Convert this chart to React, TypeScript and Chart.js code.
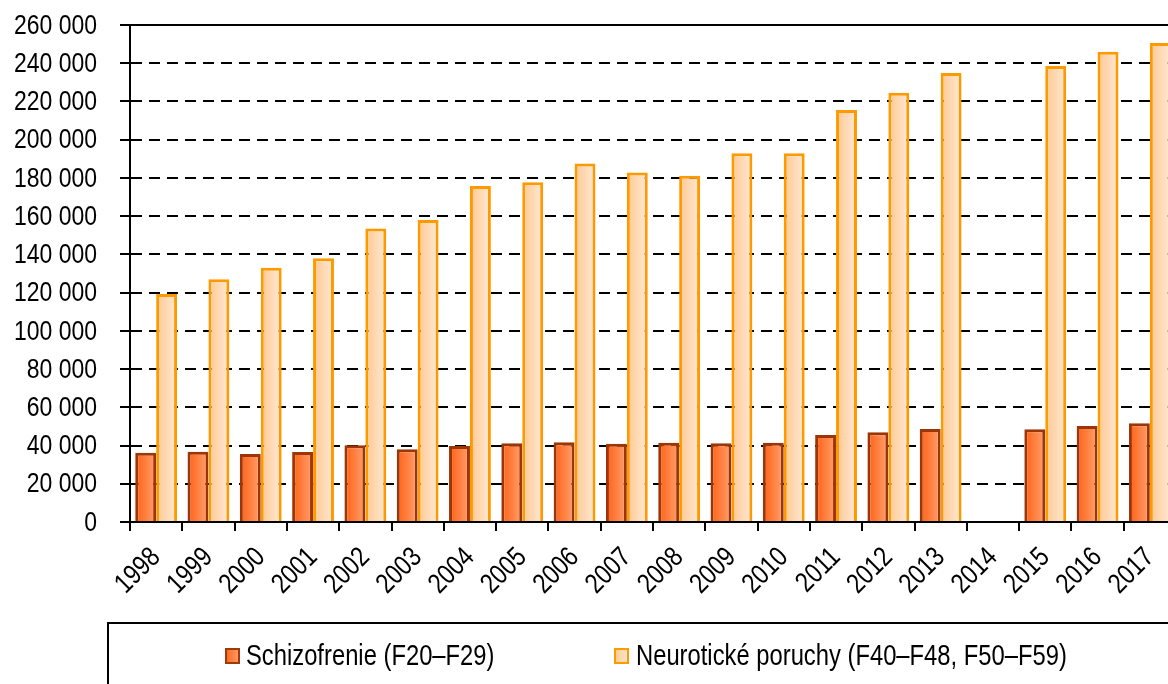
import React, { useEffect, useRef } from "react";
import { Chart, registerables } from "chart.js";

Chart.register(...registerables);

const years = ["1998","1999","2000","2001","2002","2003","2004","2005","2006","2007","2008","2009","2010","2011","2012","2013","2014","2015","2016","2017"];
const schizofrenie: (number | null)[] = [36250,36800,35600,36600,40100,38000,39800,41200,41700,41000,41500,41200,41500,45500,46900,48600,null,48500,50200,51600];
const neuroticke: (number | null)[] = [119300,127000,133000,138000,153600,158000,175800,177700,187600,182900,181200,192900,192900,215500,224600,234900,null,238600,246000,250600];
const seriesNames = ["Schizofrenie (F20–F29)", "Neurotické poruchy (F40–F48, F50–F59)"];
const yMax = 260000;
const yStep = 20000;

const FONT = "'Liberation Sans', Arial, sans-serif";
const NARROW = 0.82;

const CW = 1190;
const CH = 684;

function fmt(v: number) {
  return v === 0 ? "0" : `${Math.round(v / 1000)} 000`;
}

function barGradient(ctx: any, datasetIndex: number, dataIndex: number, c0: string, c1: string) {
  const chart = ctx.chart;
  const xs = chart.scales?.x;
  if (!xs || !chart.ctx) return c0;
  const center = xs.getPixelForValue(dataIndex);
  const cw = xs.width / years.length;
  const bw = cw * 0.4;
  const left = datasetIndex === 0 ? center - bw : center;
  if (!isFinite(left)) return c0;
  const g = chart.ctx.createLinearGradient(left, 0, left + bw, 0);
  g.addColorStop(0, c0);
  g.addColorStop(1, c1);
  return g;
}

function narrowText(ctx: CanvasRenderingContext2D, text: string, x: number, y: number, rot: number, align: CanvasTextAlign, baseline: CanvasTextBaseline) {
  ctx.save();
  ctx.translate(x, y);
  if (rot) ctx.rotate(rot);
  ctx.scale(NARROW, 1);
  ctx.textAlign = align;
  ctx.textBaseline = baseline;
  ctx.fillText(text, 0, 0);
  ctx.restore();
}

const frameAndLegend = {
  id: "frameAndLegend",
  afterDraw(chart: any) {
    const { ctx, chartArea } = chart;
    const xs = chart.scales.x;
    const ys = chart.scales.y;
    ctx.save();
    // solid top line
    ctx.strokeStyle = "#000";
    ctx.lineWidth = 2;
    ctx.setLineDash([]);
    ctx.beginPath();
    ctx.moveTo(chartArea.left - 10, chartArea.top);
    ctx.lineTo(chartArea.right + 20, chartArea.top);
    ctx.stroke();

    // tick labels
    ctx.fillStyle = "#000";
    ctx.font = `28px ${FONT}`;
    for (const t of ys.ticks) {
      const y = ys.getPixelForValue(t.value);
      narrowText(ctx, fmt(t.value), 97, y + 1, 0, "right", "middle");
    }
    years.forEach((lab, i) => {
      const x = xs.getPixelForValue(i);
      narrowText(ctx, lab, x, 553, -Math.PI / 4, "right", "middle");
    });

    // legend box
    ctx.beginPath();
    ctx.rect(108, 623, 1200, 200);
    ctx.stroke();

    const items = [
      { x: 225, tx: 246, c0: "#ff6418", c1: "#ffa070", b: "#a03a0a", label: seriesNames[0] },
      { x: 614, tx: 636, c0: "#ffc890", c1: "#ffe8d2", b: "#ff9900", label: seriesNames[1] },
    ];
    ctx.font = `29px ${FONT}`;
    for (const it of items) {
      const g = ctx.createLinearGradient(it.x, 0, it.x + 15, 0);
      g.addColorStop(0, it.c0);
      g.addColorStop(1, it.c1);
      ctx.fillStyle = g;
      ctx.fillRect(it.x, 648, 15, 16);
      ctx.strokeStyle = it.b;
      ctx.lineWidth = 2;
      ctx.strokeRect(it.x + 1, 649, 13, 14);
      ctx.fillStyle = "#000";
      narrowText(ctx, it.label, it.tx, 665, 0, "left", "alphabetic");
    }
    ctx.restore();
  },
};

export default function App() {
  const ref = useRef<HTMLCanvasElement | null>(null);
  useEffect(() => {
    if (!ref.current) return;
    const chart = new Chart(ref.current, {
      type: "bar",
      data: {
        labels: years,
        datasets: [
          {
            label: seriesNames[0],
            data: schizofrenie,
            backgroundColor: (c: any) => barGradient(c, 0, c.dataIndex, "#ff6012", "#ffa070"),
            borderColor: "#9c3508",
            borderWidth: 3,
            borderSkipped: "bottom",
            categoryPercentage: 0.8,
            barPercentage: 1,
          },
          {
            label: seriesNames[1],
            data: neuroticke,
            backgroundColor: (c: any) => barGradient(c, 1, c.dataIndex, "#ffc890", "#ffe9d6"),
            borderColor: "#ff9900",
            borderWidth: 3,
            borderSkipped: "bottom",
            categoryPercentage: 0.8,
            barPercentage: 1,
          },
        ],
      },
      options: {
        animation: false,
        responsive: false,
        devicePixelRatio: 1,
        layout: { padding: { top: 25, right: CW - 1176, left: 0, bottom: 0 } },
        plugins: {
          legend: { display: false },
          tooltip: { enabled: false },
        },
        scales: {
          x: {
            offset: true,
            grid: {
              offset: true,
              drawOnChartArea: false,
              drawTicks: true,
              tickLength: 9,
              color: "#000",
              lineWidth: 2,
            },
            border: { display: true, color: "#000", width: 2 },
            ticks: { display: false, autoSkip: false },
            afterFit: (s: any) => { s.height = CH - 522; },
          },
          y: {
            min: 0,
            max: yMax,
            ticks: { display: false, stepSize: yStep },
            grid: {
              color: "#000",
              lineWidth: 2,
              tickBorderDash: [],
              tickLength: 10,
              drawTicks: true,
            },
            border: { display: true, color: "#000", width: 2, dash: [11, 7] },
            afterFit: (s: any) => { s.width = 130; },
          },
        },
      },
      plugins: [frameAndLegend],
    });
    return () => chart.destroy();
  }, []);
  return (
    <div style={{ position: "fixed", left: 0, top: 0, width: 1168, height: 684, overflow: "hidden", background: "#fff" }}>
      <canvas ref={ref} width={CW} height={CH} style={{ display: "block", width: CW, height: CH }} />
    </div>
  );
}
